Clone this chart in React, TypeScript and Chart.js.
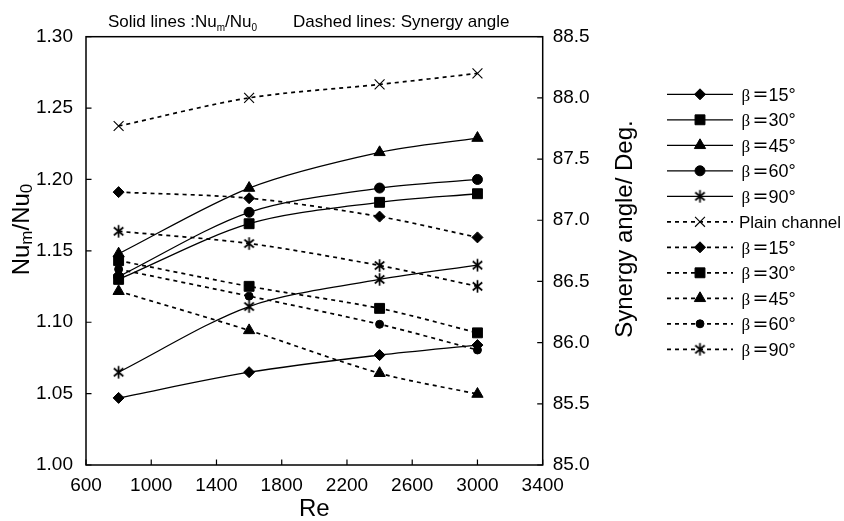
import React, { useEffect, useRef } from "react";
import { Chart, registerables } from "chart.js";
import { drawPoint } from "chart.js/helpers";

Chart.register(...registerables);

// ---------- data ----------
const RE = [800, 1600, 2400, 3000];

// Solid lines: Nu_m / Nu_0 (left axis)
const NU_B15 = [1.047, 1.065, 1.077, 1.084];
const NU_B30 = [1.130, 1.169, 1.184, 1.190];
const NU_B45 = [1.148, 1.194, 1.219, 1.229];
const NU_B60 = [1.132, 1.177, 1.194, 1.200];
const NU_B90 = [1.065, 1.111, 1.130, 1.140];

// Dashed lines: synergy angle in degrees (right axis)
const SYN_PLAIN = [87.77, 88.0, 88.11, 88.2];
const SYN_B15 = [87.23, 87.18, 87.03, 86.86];
const SYN_B30 = [86.67, 86.46, 86.28, 86.08];
const SYN_B45 = [86.42, 86.10, 85.75, 85.58];
const SYN_B60 = [86.60, 86.38, 86.15, 85.94];
const SYN_B90 = [86.91, 86.81, 86.63, 86.46];

const BETA_LABELS = ["15°", "30°", "45°", "60°", "90°"];
const PLAIN_LABEL = "Plain channel";

const X_MIN = 600, X_MAX = 3400, X_STEP = 400;
const Y_MIN = 1.0, Y_MAX = 1.3, Y_STEP = 0.05;
const Y1_MIN = 85.0, Y1_MAX = 88.5, Y1_STEP = 0.5;

const TOP_TITLE_A = "Solid lines :";
const TOP_TITLE_B = "Dashed lines: Synergy angle";
const Y_TITLE_RIGHT = "Synergy angle/ Deg.";
const X_TITLE = "Re";

const SANS = '"Liberation Sans", Arial, Helvetica, sans-serif';

function makeAsterisk(): HTMLCanvasElement {
  const size = 15;
  const c = document.createElement("canvas");
  c.width = size;
  c.height = size;
  const ctx = c.getContext("2d")!;
  ctx.strokeStyle = "#000";
  ctx.lineWidth = 1.7;
  const m = size / 2;
  const r = 6.2;
  ctx.beginPath();
  ctx.moveTo(m, m - r);
  ctx.lineTo(m, m + r);
  const a = (40 * Math.PI) / 180;
  ctx.moveTo(m - r * Math.cos(a), m - r * Math.sin(a));
  ctx.lineTo(m + r * Math.cos(a), m + r * Math.sin(a));
  ctx.moveTo(m - r * Math.cos(a), m + r * Math.sin(a));
  ctx.lineTo(m + r * Math.cos(a), m - r * Math.sin(a));
  ctx.stroke();
  return c;
}

function pts(arr: number[]) {
  return RE.map((x, i) => ({ x, y: arr[i] }));
}

export default function App() {
  const ref = useRef<HTMLCanvasElement | null>(null);

  useEffect(() => {
    if (!ref.current) return;
    const star = makeAsterisk();

    const markers: any[] = [
      { pointStyle: "rectRot", radius: 5.5 },
      { pointStyle: "rect", radius: 7 },
      { pointStyle: "triangle", radius: 6.5 },
      { pointStyle: "circle", radius: 5 },
      { pointStyle: star, radius: 6 },
    ];
    const dashedMarkers: any[] = [
      { pointStyle: "rectRot", radius: 5.5 },
      { pointStyle: "rect", radius: 7 },
      { pointStyle: "triangle", radius: 6.5 },
      { pointStyle: "circle", radius: 4 },
      { pointStyle: star, radius: 6 },
    ];
    const plainMarker = { pointStyle: "crossRot", radius: 7 };

    const solidSeries = [NU_B15, NU_B30, NU_B45, NU_B60, NU_B90];
    const dashedSeries = [SYN_B15, SYN_B30, SYN_B45, SYN_B60, SYN_B90];

    const SOLID_W = 1.3;
    const DASH_W = 1.7;
    const DASH = [4, 4];
    const TENSION = 0.3;

    const solidSets = solidSeries.map((arr, i) => ({
      label: "β =" + BETA_LABELS[i],
      data: pts(arr),
      yAxisID: "y",
      borderColor: "#000",
      backgroundColor: "#000",
      borderWidth: SOLID_W,
      pointStyle: markers[i].pointStyle,
      pointRadius: markers[i].radius,
      pointBorderWidth: 1,
      pointBackgroundColor: "#000",
      pointBorderColor: "#000",
      tension: TENSION,
      fill: false,
    }));
    const plainSet = {
      label: PLAIN_LABEL,
      data: pts(SYN_PLAIN),
      yAxisID: "y1",
      borderColor: "#000",
      backgroundColor: "#000",
      borderWidth: DASH_W,
      borderDash: DASH,
      pointStyle: plainMarker.pointStyle,
      pointRadius: plainMarker.radius,
      pointBorderWidth: 1.1,
      pointBackgroundColor: "#000",
      pointBorderColor: "#000",
      tension: TENSION,
      fill: false,
    };
    const dashedSets = dashedSeries.map((arr, i) => ({
      label: "β =" + BETA_LABELS[i],
      data: pts(arr),
      yAxisID: "y1",
      borderColor: "#000",
      backgroundColor: "#000",
      borderWidth: DASH_W,
      borderDash: DASH,
      pointStyle: dashedMarkers[i].pointStyle,
      pointRadius: dashedMarkers[i].radius,
      pointBorderWidth: 1,
      pointBackgroundColor: "#000",
      pointBorderColor: "#000",
      tension: TENSION,
      fill: false,
    }));

    const legendItems = [
      ...markers.map((m, i) => ({ dashed: false, marker: m, beta: BETA_LABELS[i] })),
      { dashed: true, marker: plainMarker, text: PLAIN_LABEL },
      ...dashedMarkers.map((m, i) => ({ dashed: true, marker: m, beta: BETA_LABELS[i] })),
    ];

    const decor = {
      id: "decor",
      afterDraw(chart: any) {
        const { ctx, chartArea: a, scales } = chart;
        ctx.save();
        // frame
        ctx.strokeStyle = "#000";
        ctx.setLineDash([]);
        ctx.lineWidth = 1.5;
        ctx.strokeRect(a.left, a.top, a.right - a.left, a.bottom - a.top);
        // inward tick marks
        const TL = 5.5;
        ctx.lineWidth = 1.2;
        ctx.beginPath();
        scales.x.ticks.forEach((t: any) => {
          const px = scales.x.getPixelForValue(t.value);
          ctx.moveTo(px, a.bottom);
          ctx.lineTo(px, a.bottom - TL);
        });
        scales.y.ticks.forEach((t: any) => {
          const py = scales.y.getPixelForValue(t.value);
          ctx.moveTo(a.left, py);
          ctx.lineTo(a.left + TL, py);
        });
        scales.y1.ticks.forEach((t: any) => {
          const py = scales.y1.getPixelForValue(t.value);
          ctx.moveTo(a.right, py);
          ctx.lineTo(a.right - TL, py);
        });
        ctx.stroke();

        ctx.fillStyle = "#000";
        ctx.textBaseline = "alphabetic";

        // top title with subscripts
        {
          let x = 108;
          const yb = 26.5;
          const big = `17px ${SANS}`;
          const sub = `10px ${SANS}`;
          const parts: [string, string, number][] = [
            [TOP_TITLE_A, big, 0],
            ["Nu", big, 0],
            ["m", sub, 4],
            ["/Nu", big, 0],
            ["0", sub, 4],
          ];
          ctx.textAlign = "left";
          for (const [s, f, dy] of parts) {
            ctx.font = f;
            ctx.fillText(s, x, yb + dy);
            x += ctx.measureText(s).width;
          }
          ctx.font = big;
          ctx.fillText(TOP_TITLE_B, 293, yb);
        }

        // left axis title (rotated) with subscripts
        {
          const big = `24px ${SANS}`;
          const sub = `17px ${SANS}`;
          const parts: [string, string, number][] = [
            ["Nu", big, 0],
            ["m", sub, 3],
            ["/Nu", big, 0],
            ["0", sub, 3],
          ];
          let total = 0;
          for (const [s, f] of parts) {
            ctx.font = f;
            total += ctx.measureText(s).width;
          }
          ctx.save();
          ctx.translate(29, 229.5);
          ctx.rotate(-Math.PI / 2);
          ctx.textAlign = "left";
          let x = -total / 2;
          for (const [s, f, dy] of parts) {
            ctx.font = f;
            ctx.fillText(s, x, dy);
            x += ctx.measureText(s).width;
          }
          ctx.restore();
        }

        // right axis title
        {
          ctx.save();
          ctx.font = `24px ${SANS}`;
          ctx.translate(632, 229);
          ctx.rotate(-Math.PI / 2);
          ctx.textAlign = "center";
          ctx.fillText(Y_TITLE_RIGHT, 0, 0);
          ctx.restore();
        }

        // x axis title
        ctx.font = `24px ${SANS}`;
        ctx.textAlign = "center";
        ctx.fillText(X_TITLE, (a.left + a.right) / 2, 516);

        // legend
        const lx0 = 667, lx1 = 733, mx = 700;
        legendItems.forEach((it: any, i: number) => {
          const y = 94.3 + i * 25.5;
          ctx.strokeStyle = "#000";
          ctx.lineWidth = it.dashed ? DASH_W : SOLID_W;
          ctx.setLineDash(it.dashed ? DASH : []);
          ctx.beginPath();
          ctx.moveTo(lx0, y);
          ctx.lineTo(lx1, y);
          ctx.stroke();
          ctx.setLineDash([]);
          ctx.fillStyle = "#000";
          ctx.lineWidth = it.marker.pointStyle === "crossRot" ? 1.1 : 1;
          drawPoint(ctx, { pointStyle: it.marker.pointStyle, radius: it.marker.radius, rotation: 0, borderWidth: 1 } as any, mx, y);
          ctx.fillStyle = "#000";
          ctx.textAlign = "left";
          const yb = y + 6.2;
          if (it.text) {
            ctx.font = `17px ${SANS}`;
            ctx.fillText(it.text, 739, yb);
          } else {
            ctx.font = `17px "Liberation Serif", serif`;
            ctx.fillText("β", 741.5, yb);
            ctx.font = `19px "DejaVu Sans", sans-serif`;
            ctx.fillText("=", 752.5, yb - 0.5);
            ctx.font = `18px ${SANS}`;
            ctx.fillText(it.beta, 768.5, yb);
          }
        });

        ctx.restore();
      },
    };

    const tickFont = { family: SANS, size: 19 };

    const chart = new Chart(ref.current, {
      type: "line",
      data: { datasets: [...solidSets, plainSet, ...dashedSets] as any },
      options: {
        responsive: false,
        animation: false,
        events: [],
        layout: { padding: { top: 36.7, left: 0, right: 240, bottom: 0 } },
        plugins: {
          legend: { display: false },
          tooltip: { enabled: false },
          title: { display: false },
        },
        scales: {
          x: {
            type: "linear",
            min: X_MIN,
            max: X_MAX,
            grid: { display: false, drawTicks: false },
            border: { display: false },
            ticks: { stepSize: X_STEP, color: "#000", font: tickFont, padding: 9, maxRotation: 0, autoSkip: false, callback: (v: any) => String(v) },
            afterFit: (s: any) => { s.height = 56; },
          },
          y: {
            type: "linear",
            position: "left",
            min: Y_MIN,
            max: Y_MAX,
            grid: { display: false, drawTicks: false },
            border: { display: false },
            ticks: { stepSize: Y_STEP, color: "#000", font: tickFont, padding: 13, callback: (v: any) => Number(v).toFixed(2) },
            afterFit: (s: any) => { s.width = 86; },
          },
          y1: {
            type: "linear",
            position: "right",
            min: Y1_MIN,
            max: Y1_MAX,
            grid: { display: false, drawTicks: false },
            border: { display: false },
            ticks: { stepSize: Y1_STEP, color: "#000", font: tickFont, padding: 10, callback: (v: any) => Number(v).toFixed(1) },
            afterFit: (s: any) => { s.width = 61.3; },
          },
        },
      },
      plugins: [decor],
    } as any);

    return () => chart.destroy();
  }, []);

  return (
    <div style={{ position: "absolute", left: 0, top: 0, width: 844, height: 521, background: "#fff" }}>
      <canvas ref={ref} width={844} height={521} style={{ display: "block", width: 844, height: 521 }} />
    </div>
  );
}
